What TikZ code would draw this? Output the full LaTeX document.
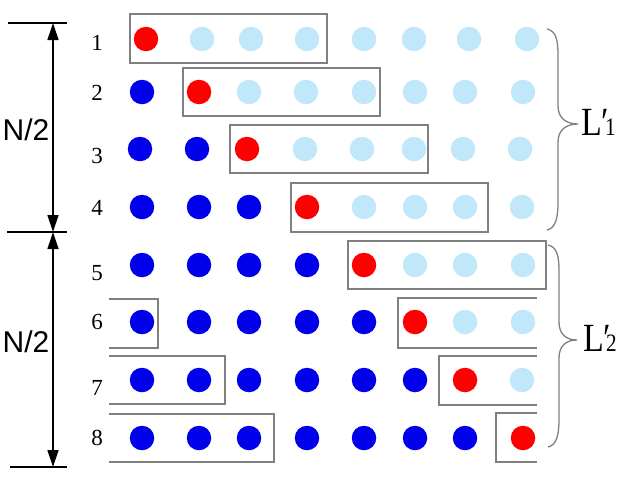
\documentclass[tikz,border=0pt]{standalone}
\usepackage{fontspec}
\setmainfont{Liberation Serif}
\newfontfamily\sansf{Liberation Sans}
\usetikzlibrary{arrows.meta}
\definecolor{dR}{RGB}{255,0,0}
\definecolor{dB}{RGB}{0,0,235}
\definecolor{dL}{RGB}{192,232,250}
\definecolor{boxgray}{RGB}{128,128,128}
\begin{document}
\begin{tikzpicture}[x=1pt,y=-1pt,
  dot/.style={circle,inner sep=0pt,minimum size=24.5pt,draw=none},
  dotR/.style={dot,fill=dR},
  dotB/.style={dot,fill=dB},
  dotL/.style={dot,fill=dL},
  winbox/.style={draw=boxgray,line width=1.3pt},
  brc/.style={draw=boxgray,line width=1.3pt},
  dimline/.style={line width=1.3pt,black},
  dimarrow/.style={line width=1.3pt,black,{Triangle[length=17pt,width=11pt]}-{Triangle[length=17pt,width=11pt]}},
  rownum/.style={font=\fontsize{23}{23}\selectfont,inner sep=0pt,anchor=base},
  half/.style={font=\sansf\fontsize{30}{30}\selectfont,inner sep=0pt},
  lab/.style={font=\fontsize{40}{40}\selectfont,inner sep=0pt,anchor=base west,xscale=0.85},
  labprime/.style={font=\fontsize{40}{40}\selectfont,inner sep=0pt,anchor=base west,xscale=0.85},
  labsub/.style={font=\fontsize{25}{25}\selectfont,inner sep=0pt,anchor=base west,xscale=0.85}
]
\useasboundingbox (0,0) rectangle (628,480);

% dots
\foreach \r/\y/\xs in {
  1/39/{146,202,251,307,364,414,469,527},
  2/92/{142,199,249,306,364,415,465,523},
  3/149/{140,197,247,305,362,414,463,520},
  4/207/{142,199,249,307,364,415,465,522},
  5/265/{142,199,249,307,364,415,465,523},
  6/322/{142,199,249,307,364,415,465,523},
  7/380/{142,199,249,307,364,415,465,522},
  8/438/{142,199,249,307,364,415,465,523}}{
  \foreach \x [count=\k] in \xs {
    \ifnum\k<\r
      \node[dotB] (c\r-\k) at (\x,\y) {};
    \else\ifnum\k=\r
      \node[dotR] (c\r-\k) at (\x,\y) {};
    \else
      \node[dotL] (c\r-\k) at (\x,\y) {};
    \fi\fi
  }
}

% row numbers
\node[rownum] (n1) at (97,50) {1};
\node[rownum] (n2) at (97,100) {2};
\node[rownum] (n3) at (97,163) {3};
\node[rownum] (n4) at (97,215) {4};
\node[rownum] (n5) at (97,280) {5};
\node[rownum] (n6) at (97,329) {6};
\node[rownum] (n7) at (97,395) {7};
\node[rownum] (n8) at (97,445) {8};

% window boxes
\draw[winbox] (130,14) rectangle (327,63);
\draw[winbox] (183,68) rectangle (380,116);
\draw[winbox] (230,125) rectangle (428,173);
\draw[winbox] (291,183) rectangle (488,232);
\draw[winbox] (348,241) rectangle (546,289);
\draw[winbox] (537,298) -- (398,298) -- (398,348) -- (537,348);
\draw[winbox] (109,299) -- (158,299) -- (158,348) -- (109,348);
\draw[winbox] (537,356) -- (439,356) -- (439,405) -- (537,405);
\draw[winbox] (109,356) -- (225,356) -- (225,404) -- (109,404);
\draw[winbox] (537,413) -- (496,413) -- (496,462) -- (537,462);
\draw[winbox] (109,414) -- (274,414) -- (274,462) -- (109,462);

% dimension arrows
\coordinate (top) at (53,23);
\coordinate (mid) at (53,232);
\coordinate (bot) at (53,467);
\coordinate (topL) at (8,23);
\coordinate (topR) at (67,23);
\coordinate (midL) at (7,232);
\coordinate (midR) at (67,232);
\coordinate (botL) at (10,467);
\coordinate (botR) at (67,467);
\draw[dimline] (topL) -- (topR);
\draw[dimline] (midL) -- (midR);
\draw[dimline] (botL) -- (botR);
\draw[dimarrow] (top) -- (mid);
\draw[dimarrow] (mid) -- (bot);
\node[half] (h1) at (26,130) {N/2};
\node[half] (h2) at (26,342) {N/2};

% braces
\draw[brc] (547,29) .. controls (556,31) and (558,40) .. (558,55) -- (558,106)
  .. controls (558,118) and (566,124) .. (578,124)
  .. controls (566,124) and (558,130) .. (558,142) -- (558,202)
  .. controls (558,217) and (556,228) .. (547,230);
\draw[brc] (548,245) .. controls (557,247) and (559,256) .. (559,271) -- (559,322)
  .. controls (559,334) and (566,340) .. (577,340)
  .. controls (566,340) and (559,346) .. (559,358) -- (559,419)
  .. controls (559,434) and (557,445) .. (548,447);

% labels
\node[lab] (L1) at (581,135) {L};
\node[labprime] (P1) at (601,135) {′};
\node[labsub] (S1) at (605,135) {1};
\node[lab] (L2) at (583,351) {L};
\node[labprime] (P2) at (603,351) {′};
\node[labsub] (S2) at (606,351) {2};
\end{tikzpicture}
\end{document}
